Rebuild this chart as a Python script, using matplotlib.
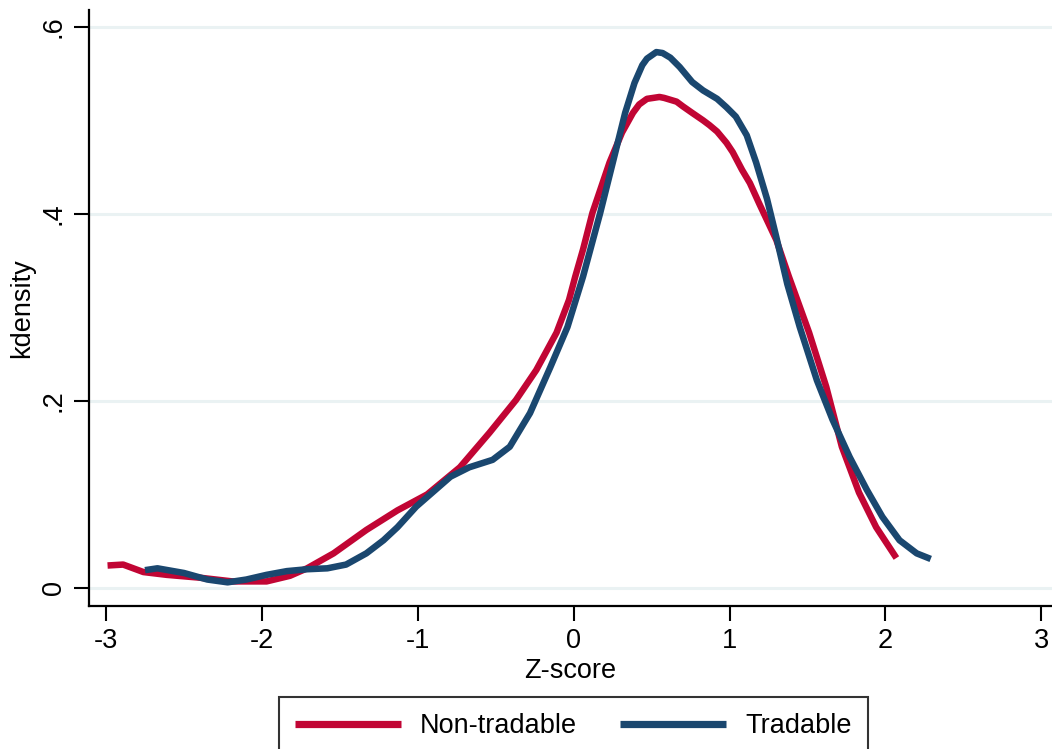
import matplotlib
matplotlib.use("Agg")
import matplotlib.pyplot as plt

plt.rcParams['font.family'] = ['Liberation Sans', 'DejaVu Sans']

# Data
nt_x = [-2.99, -2.89, -2.76, -2.61, -2.40, -2.19, -1.97, -1.82, -1.71, -1.54,
        -1.33, -1.13, -0.94, -0.73, -0.54, -0.37, -0.24, -0.11, -0.03, 0.01,
        0.06, 0.12, 0.23, 0.31, 0.38, 0.42, 0.47, 0.55, 0.58, 0.66, 0.70, 0.76,
        0.83, 0.87, 0.92, 0.98, 1.02, 1.08, 1.13, 1.19, 1.30, 1.38, 1.51, 1.62,
        1.72, 1.83, 1.94, 2.07]
nt_y = [0.024, 0.025, 0.017, 0.014, 0.011, 0.007, 0.007, 0.013, 0.021, 0.037,
        0.062, 0.083, 0.100, 0.129, 0.166, 0.201, 0.233, 0.273, 0.308, 0.333,
        0.362, 0.401, 0.455, 0.487, 0.508, 0.517, 0.523, 0.525, 0.524, 0.520, 0.515, 0.508,
        0.500, 0.495, 0.488, 0.476, 0.466, 0.447, 0.433, 0.411, 0.372, 0.333, 0.273, 0.215,
        0.151, 0.102, 0.065, 0.032]

tr_x = [-2.75, -2.67, -2.50, -2.35, -2.22, -2.10, -1.97, -1.84, -1.71, -1.58,
        -1.46, -1.33, -1.22, -1.13, -1.01, -0.79, -0.67, -0.52, -0.41, -0.28,
        -0.15, -0.04, 0.06, 0.17, 0.26, 0.33, 0.39, 0.44, 0.47, 0.53, 0.57, 0.62,
        0.68, 0.76, 0.83, 0.92, 0.98, 1.04, 1.11, 1.17, 1.24, 1.30, 1.37, 1.45,
        1.56, 1.66, 1.77, 1.88, 1.98, 2.09, 2.20, 2.29]
tr_y = [0.019, 0.021, 0.016, 0.009, 0.006, 0.009, 0.014, 0.018, 0.020, 0.021,
        0.025, 0.037, 0.051, 0.065, 0.087, 0.119, 0.129, 0.137, 0.151, 0.187,
        0.236, 0.279, 0.333, 0.401, 0.461, 0.508, 0.540, 0.559, 0.566, 0.573, 0.572, 0.567,
        0.557, 0.541, 0.532, 0.523, 0.514, 0.504, 0.484, 0.455, 0.416, 0.375, 0.325, 0.279,
        0.222, 0.180, 0.140, 0.105, 0.076, 0.051, 0.037, 0.031]

x_ticks = [-3, -2, -1, 0, 1, 2, 3]
x_ticklabels = ['-3', '-2', '-1', '0', '1', '2', '3']
y_ticks = [0, 0.2, 0.4, 0.6]
y_ticklabels = ['0', '.2', '.4', '.6']

W, H = 1052, 749
fig = plt.figure(figsize=(W / 100, H / 100), dpi=100)
left, right, bottom, top = 89, 1052, 606, 10
ax = fig.add_axes([left / W, 1 - bottom / H, (right - left) / W, (bottom - top) / H])

red = '#C10534'
blue = '#1A476F'
FS = 19.5

for yv in y_ticks:
    ax.axhline(yv, color='#EAF2F3', lw=2.2, zorder=0)

ax.plot(nt_x, nt_y, color=red, lw=4.7, solid_capstyle='butt', solid_joinstyle='round',
        label='Non-tradable', zorder=3)
ax.plot(tr_x, tr_y, color=blue, lw=4.7, solid_capstyle='butt', solid_joinstyle='round',
        label='Tradable', zorder=4)

ax.set_xlim(-3.109, 3.068)
ax.set_ylim(-0.0193, 0.618)

ax.set_xticks(x_ticks)
ax.set_xticklabels(x_ticklabels)
ax.set_yticks(y_ticks)
ax.set_yticklabels(y_ticklabels, rotation=90, va='center')

ax.tick_params(axis='both', direction='out', length=11, width=1.5, color='black',
               labelsize=FS, pad=5)
for s in ['top', 'right']:
    ax.spines[s].set_visible(False)
for s in ['left', 'bottom']:
    ax.spines[s].set_linewidth(1.6)
    ax.spines[s].set_color('black')

ax.set_xlabel('Z-score', fontsize=FS, labelpad=3)
ax.set_ylabel('kdensity', fontsize=FS, labelpad=4)

leg = ax.legend(loc='upper left', bbox_to_anchor=(279 / W, 1 - 697 / H),
                bbox_transform=fig.transFigure, ncol=2, fontsize=FS,
                frameon=True, fancybox=False, edgecolor='black',
                handlelength=3.9, handletextpad=0.7, columnspacing=1.6,
                borderpad=0.6, borderaxespad=0)
leg.get_frame().set_linewidth(1.5)
for h in leg.get_lines():
    h.set_linewidth(5.2)

fig.savefig('out.png', dpi=100)
